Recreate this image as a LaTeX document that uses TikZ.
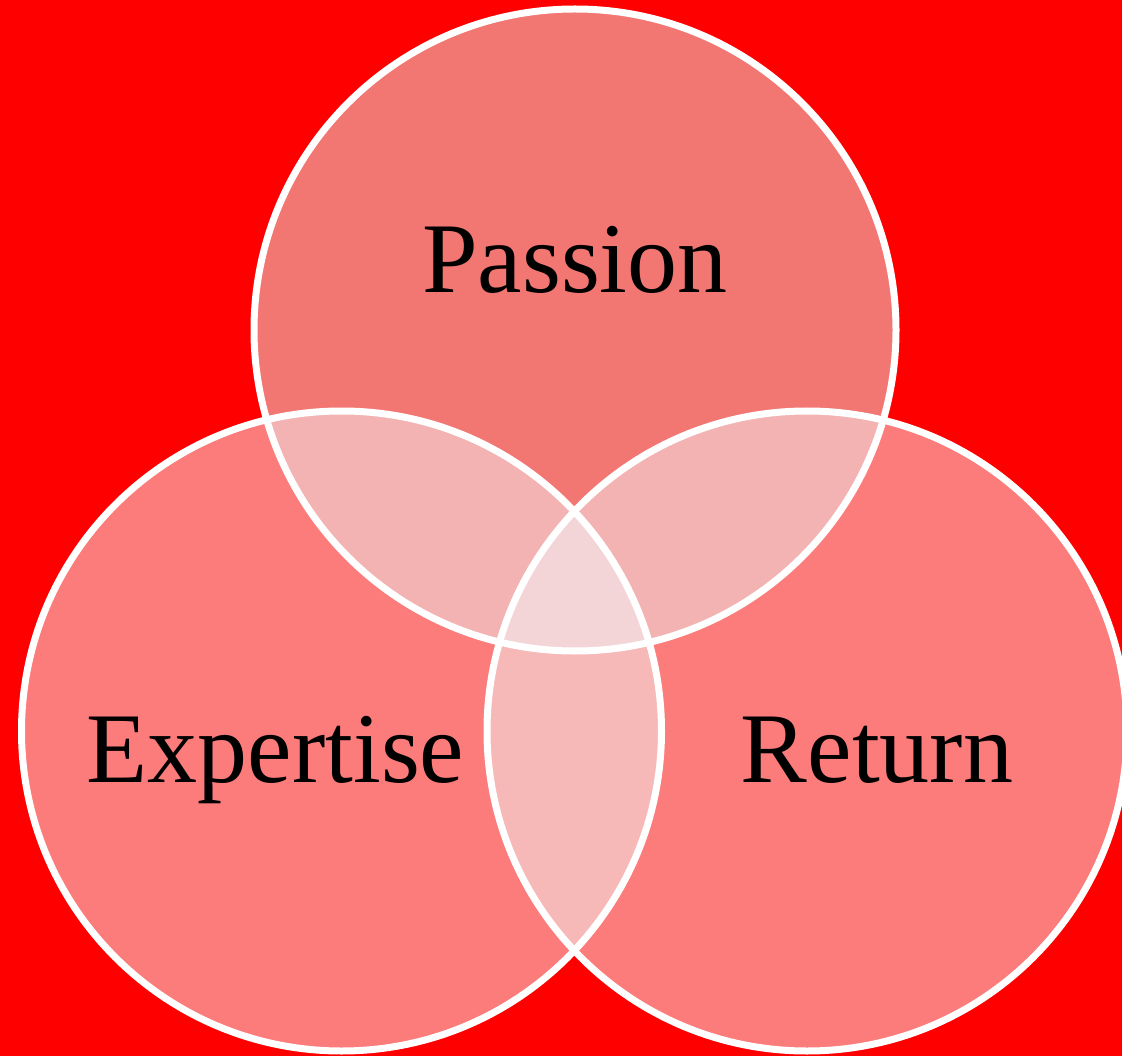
\documentclass[tikz,border=0pt]{standalone}
\usepackage{fontspec}
\setmainfont{Liberation Serif}
\definecolor{bgred}{HTML}{FF0000}
\definecolor{topfill}{HTML}{F27672}
\definecolor{botfill}{HTML}{FB7C7A}
\definecolor{ovtop}{HTML}{F3B3B3}
\definecolor{ovbot}{HTML}{F7B8B8}
\definecolor{ovmid}{HTML}{F3D5D8}
\begin{document}
\begin{tikzpicture}[x=1pt,y=-1pt,
  ring/.style={draw=white,line width=7pt},
  lbl/.style={anchor=base,inner sep=0pt,font=\fontsize{100}{102}\selectfont,text=black}]
\useasboundingbox (0,0) rectangle (1122,1056);
\fill[bgred] (0,0) rectangle (1122,1056);
\def\cA{(575,330) circle[radius=321]}
\def\cB{(341.5,731) circle[radius=320]}
\def\cC{(807,731) circle[radius=320]}
\fill[topfill] \cA;
\fill[botfill] \cB;
\fill[botfill] \cC;
\begin{scope}\clip \cA; \fill[ovtop] \cB; \fill[ovtop] \cC; \end{scope}
\begin{scope}\clip \cB; \fill[ovbot] \cC; \end{scope}
\begin{scope}\clip \cA; \clip \cB; \fill[ovmid] \cC; \end{scope}
\draw[ring] \cA;
\draw[ring] \cB;
\draw[ring] \cC;
\node[lbl] (passion) at (575,293) {Passion};
\node[lbl] (expertise) at (275.5,782) {Expertise};
\node[lbl] (return) at (877,782) {Return};
\end{tikzpicture}
\end{document}
